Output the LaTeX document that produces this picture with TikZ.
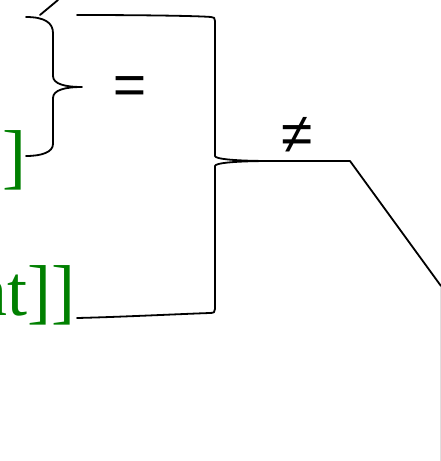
\documentclass[tikz,border=0pt]{standalone}
\usepackage{fontspec}
\setmainfont{Liberation Serif}
\newfontfamily\symfont{Liberation Sans}
\definecolor{txtgreen}{RGB}{0,128,0}
\begin{document}
\begin{tikzpicture}[x=1pt,y=-1pt,
  line/.style={line width=1.8pt,line cap=round,line join=round},
  greentext/.style={text=txtgreen,font=\fontsize{72}{72}\selectfont,inner sep=0pt},
  symtext/.style={font=\symfont\fontsize{57}{57}\selectfont,inner sep=0pt}]
\useasboundingbox (0,0) rectangle (441,461);
% texts
\node[greentext,anchor=base east] (b1) at (27,180) {]};
\node[greentext,anchor=base east] (b2) at (76,315) {nt]]};
\node[symtext] (eq) at (129.5,91) {\itshape =};
\node[symtext] (neq) at (297,135) {≠};
% coordinates
\coordinate (slashA) at (40,15);
\coordinate (slashB) at (58,0);
\coordinate (braceTop) at (26,17);
\coordinate (braceTip) at (82,87);
\coordinate (braceBot) at (26,156);
\coordinate (rTopL) at (77,15);
\coordinate (rBotL) at (77,318);
\coordinate (rTip) at (272,161);
\coordinate (knee) at (350,161);
\coordinate (diagEnd) at (441,286);
\coordinate (edgeTop) at (440.5,287);
\coordinate (edgeBot) at (440.5,461);
% small slash
\draw[line] (slashA) -- (slashB);
% curly brace
\draw[line] (braceTop) .. controls (45,17) and (53,23) .. (53,33)
  -- (53,76) .. controls (53,84) and (65,87) .. (braceTip)
  .. controls (65,87) and (53,90) .. (53,98)
  -- (53,144) .. controls (53,152) and (42,156) .. (braceBot);
% right square brace
\draw[line] (rTopL) .. controls (150,15) and (200,16) .. (211,17)
  .. controls (214,17) and (215,18) .. (215,21)
  -- (215,156) .. controls (215,159) and (235,161) .. (rTip)
  .. controls (235,161) and (215,163) .. (215,166)
  -- (215,309) .. controls (215,312) and (214,313) .. (210,313)
  .. controls (180,314) and (120,317) .. (rBotL);
% continuation
\draw[line] (rTip) -- (knee) -- (diagEnd);
% faint edge
\draw[gray!25,line width=0.8pt] (edgeTop) -- (edgeBot);
\end{tikzpicture}
\end{document}
